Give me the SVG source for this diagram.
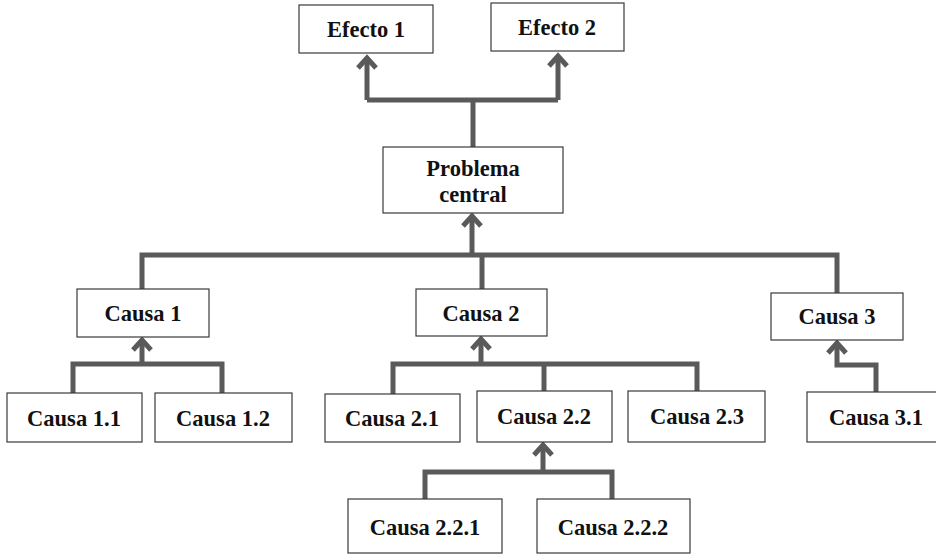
<svg xmlns="http://www.w3.org/2000/svg" width="936" height="554" viewBox="0 0 936 554">
  <style>
    .box { fill: #ffffff; stroke: #3a3a3a; stroke-width: 1.2; }
    .lbl { font-family: "Liberation Serif", "Times New Roman", serif; font-weight: bold; font-size: 22.5px; fill: #111111; text-anchor: middle; }
    .link { fill: none; stroke: #5a5a5a; stroke-width: 5; stroke-linejoin: miter; }
  </style>
  <defs>
    <marker id="chev" markerUnits="userSpaceOnUse" markerWidth="30" markerHeight="30" viewBox="-16 -15 30 30" refX="0" refY="0" orient="auto">
      <path d="M -10 -9 L 0 0 L -10 9" fill="none" stroke="#5a5a5a" stroke-width="5" stroke-linecap="butt" stroke-linejoin="miter"/>
    </marker>
  </defs>

  <rect width="936" height="554" fill="#ffffff"/>

  <!-- connectors -->
  <g id="connectors">
    <!-- Problema central to effects -->
    <path class="link" d="M 473 147 L 473 100"/>
    <path class="link" d="M 367 100 L 558 100"/>
    <path class="link" d="M 367 100 L 367 58" marker-end="url(#chev)"/>
    <path class="link" d="M 558 100 L 558 56" marker-end="url(#chev)"/>

    <!-- causes to Problema central -->
    <path class="link" d="M 142 289 L 142 255 L 837 255 L 837 293"/>
    <path class="link" d="M 482 255 L 482 289"/>
    <path class="link" d="M 472 255 L 472 216" marker-end="url(#chev)"/>

    <!-- Causa 1 branch -->
    <path class="link" d="M 73 393 L 73 364 L 222 364 L 222 393"/>
    <path class="link" d="M 142 364 L 142 340" marker-end="url(#chev)"/>

    <!-- Causa 2 branch -->
    <path class="link" d="M 393 394 L 393 364 L 697 364 L 697 391"/>
    <path class="link" d="M 544 364 L 544 391"/>
    <path class="link" d="M 481 364 L 481 339" marker-end="url(#chev)"/>

    <!-- Causa 2.2 branch -->
    <path class="link" d="M 425 499 L 425 472 L 612 472 L 612 499"/>
    <path class="link" d="M 543 472 L 543 445" marker-end="url(#chev)"/>

    <!-- Causa 3 branch -->
    <path class="link" d="M 876 392 L 876 365 L 837 365 L 837 343" marker-end="url(#chev)"/>
  </g>

  <!-- nodes -->
  <g id="efecto-1">
    <rect class="box" x="299" y="5" width="134" height="48"/>
    <text class="lbl" x="366" y="37">Efecto 1</text>
  </g>
  <g id="efecto-2">
    <rect class="box" x="491" y="3" width="133" height="48"/>
    <text class="lbl" x="557" y="35">Efecto 2</text>
  </g>
  <g id="problema-central">
    <rect class="box" x="383" y="147" width="180" height="66"/>
    <text class="lbl" x="473" y="176">Problema</text>
    <text class="lbl" x="473" y="202">central</text>
  </g>
  <g id="causa-1">
    <rect class="box" x="77" y="289" width="132" height="48"/>
    <text class="lbl" x="143" y="321">Causa 1</text>
  </g>
  <g id="causa-2">
    <rect class="box" x="416" y="289" width="131" height="47"/>
    <text class="lbl" x="481" y="321">Causa 2</text>
  </g>
  <g id="causa-3">
    <rect class="box" x="771" y="293" width="132" height="47"/>
    <text class="lbl" x="837" y="324">Causa 3</text>
  </g>
  <g id="causa-1-1">
    <rect class="box" x="7" y="393" width="135" height="49"/>
    <text class="lbl" x="74" y="426">Causa 1.1</text>
  </g>
  <g id="causa-1-2">
    <rect class="box" x="155" y="393" width="137" height="49"/>
    <text class="lbl" x="223" y="426">Causa 1.2</text>
  </g>
  <g id="causa-2-1">
    <rect class="box" x="325" y="394" width="135" height="48"/>
    <text class="lbl" x="392" y="426">Causa 2.1</text>
  </g>
  <g id="causa-2-2">
    <rect class="box" x="477" y="391" width="135" height="51"/>
    <text class="lbl" x="544" y="424">Causa 2.2</text>
  </g>
  <g id="causa-2-3">
    <rect class="box" x="628" y="391" width="137" height="51"/>
    <text class="lbl" x="697" y="424">Causa 2.3</text>
  </g>
  <g id="causa-3-1">
    <rect class="box" x="807" y="392" width="140" height="50"/>
    <text class="lbl" x="876" y="425">Causa 3.1</text>
  </g>
  <g id="causa-2-2-1">
    <rect class="box" x="348" y="499" width="154" height="54"/>
    <text class="lbl" x="425" y="535">Causa 2.2.1</text>
  </g>
  <g id="causa-2-2-2">
    <rect class="box" x="537" y="499" width="153" height="54"/>
    <text class="lbl" x="613" y="535">Causa 2.2.2</text>
  </g>
</svg>
